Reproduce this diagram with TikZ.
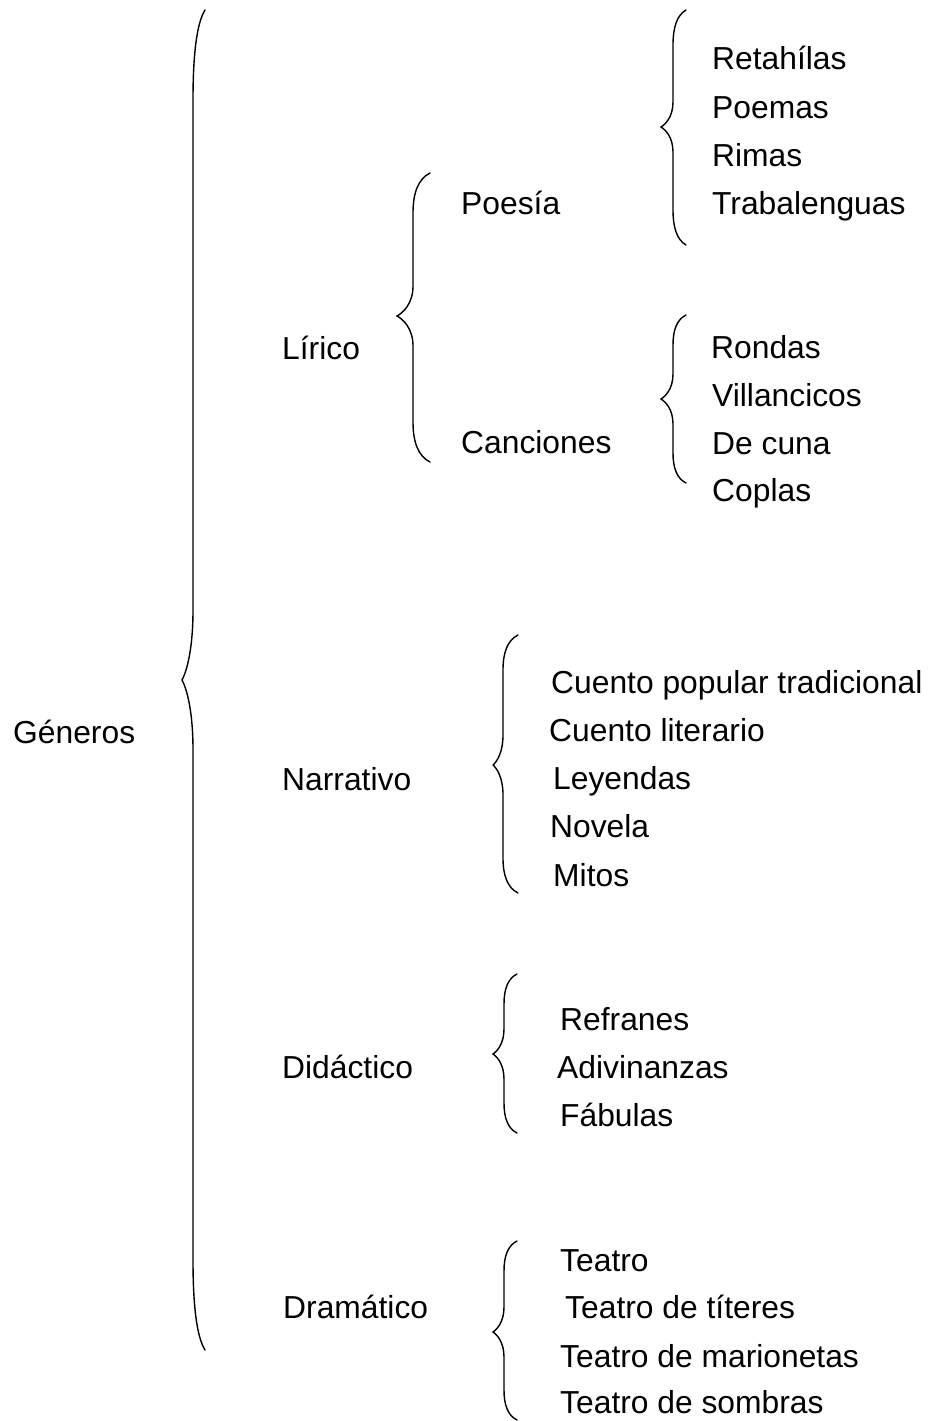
\documentclass[tikz,border=0pt]{standalone}
\usepackage{fontspec}
\setmainfont{Liberation Sans}

% left curly brace: end x, top y, stem x, tip x, tip y, bottom y, end curl, tip curl
\newcommand{\llave}[8]{%
\draw[llavetrazo] (#1,#2) .. controls ({#3+0.3*(#1-#3)},{#2+0.15*#7}) and (#3,{#2+0.5*#7}) .. (#3,{#2+#7})
-- (#3,{#5-#8}) .. controls (#3,{#5-0.4*#8}) and ({#4+0.35*(#3-#4)},{#5-0.1*#8}) .. (#4,#5)
.. controls ({#4+0.35*(#3-#4)},{#5+0.1*#8}) and (#3,{#5+0.4*#8}) .. (#3,{#5+#8})
-- (#3,{#6-#7}) .. controls (#3,{#6-0.5*#7}) and ({#3+0.3*(#1-#3)},{#6-0.15*#7}) .. (#1,#6);}

\tikzset{
etiqueta/.style={anchor=base west, inner sep=0pt, font=\fontsize{31.8}{38}\selectfont},
llavetrazo/.style={line width=1.4pt, line cap=round}
}

\begin{document}
\begin{tikzpicture}[x=1pt,y=-1pt]
\useasboundingbox (0,0) rectangle (930,1421);
% braces
\llave{205}{10}{193}{182}{680}{1350}{90}{70}
\llave{430}{173}{413}{397}{316}{462}{40}{30}
\llave{686}{10}{673}{661}{127}{245}{35}{25}
\llave{686}{315}{673}{661}{399}{483}{30}{25}
\llave{518}{635}{503}{493}{765}{893}{35}{30}
\llave{517}{974}{504}{493}{1054}{1133}{30}{25}
\llave{517}{1241}{504}{493}{1332}{1420}{30}{25}
% first level
\node[etiqueta] (generos) at (13,743) {Géneros};
\node[etiqueta] (lirico) at (282,359) {Lírico};
\node[etiqueta] (narrativo) at (282,790) {Narrativo};
\node[etiqueta] (didactico) at (282,1078) {Didáctico};
\node[etiqueta] (dramatico) at (283,1318) {Dramático};
% lirico
\node[etiqueta] (poesia) at (461,214) {Poesía};
\node[etiqueta] (canciones) at (461,453) {Canciones};
\node[etiqueta] (retahilas) at (712,70) {Retahílas};
\node[etiqueta] (poemas) at (712,118) {Poemas};
\node[etiqueta] (rimas) at (712,166) {Rimas};
\node[etiqueta] (trabalenguas) at (712,214) {Trabalenguas};
\node[etiqueta] (rondas) at (711,358) {Rondas};
\node[etiqueta] (villancicos) at (712,406) {Villancicos};
\node[etiqueta] (decuna) at (712,454) {De cuna};
\node[etiqueta] (coplas) at (712,501) {Coplas};
% narrativo
\node[etiqueta] (cuentopop) at (551,693) {Cuento popular tradicional};
\node[etiqueta] (cuentolit) at (549,741) {Cuento literario};
\node[etiqueta] (leyendas) at (553,789) {Leyendas};
\node[etiqueta] (novela) at (550,837) {Novela};
\node[etiqueta] (mitos) at (553,886) {Mitos};
% didactico
\node[etiqueta] (refranes) at (560,1030) {Refranes};
\node[etiqueta] (adivinanzas) at (557,1078) {Adivinanzas};
\node[etiqueta] (fabulas) at (560,1126) {Fábulas};
% dramatico
\node[etiqueta] (teatro) at (560,1271) {Teatro};
\node[etiqueta] (titeres) at (565,1318) {Teatro de títeres};
\node[etiqueta] (marionetas) at (560,1367) {Teatro de marionetas};
\node[etiqueta] (sombras) at (560,1413) {Teatro de sombras};
\end{tikzpicture}
\end{document}
